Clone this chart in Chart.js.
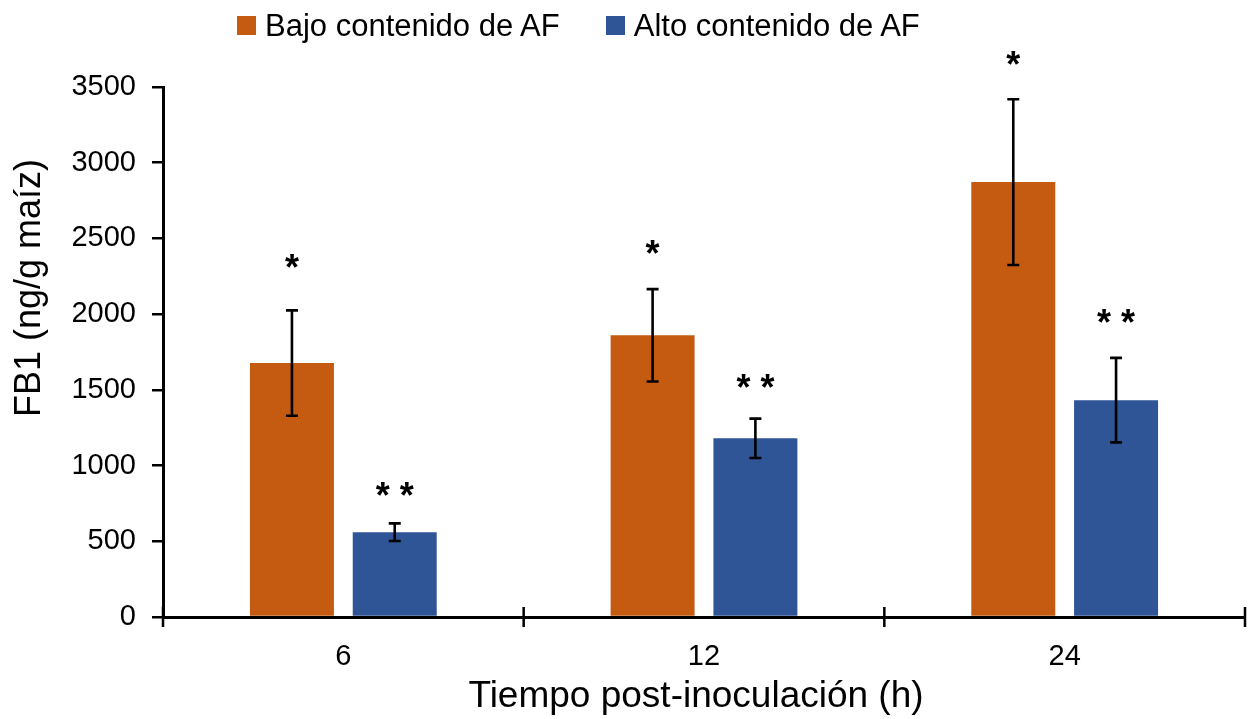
<!DOCTYPE html>
<html>
<head>
<meta charset="utf-8">
<script src="https://cdn.jsdelivr.net/npm/chart.js@4/dist/chart.umd.min.js"></script>
<style>
  html, body { margin: 0; padding: 0; background: #fff; }
  #wrap { position: relative; width: 1252px; height: 719px; }
  #legend { position: absolute; left: 237px; top: 10px; display: flex; align-items: center;
            font-family: "Liberation Sans", Arial, sans-serif; font-size: 31px; line-height: 31px; color: #000; }
  #legend .item { display: flex; align-items: center; margin-right: 46px; }
  #legend .box { width: 19px; height: 19px; margin-right: 9px; }
</style>
</head>
<body>
<div id="wrap">
  <canvas id="chart" width="1252" height="719"></canvas>
  <div id="legend"></div>
</div>
<script>
// data
const categories = ['6', '12', '24'];
const seriesNames = ['Bajo contenido de AF', 'Alto contenido de AF'];
const seriesColors = ['#C55A11', '#2F5597'];

const lowAF = [1677, 1860, 2872];
const lowAFErr = [348, 305, 547];
const highAF = [560, 1180, 1432];
const highAFErr = [58, 130, 279];

// significance marks and the level (in ng/g) where each sits
const lowAFSig = ['*', '*', '*'];
const lowAFSigAt = [2340, 2428, 3678];
const highAFSig = ['* *', '* *', '* *'];
const highAFSigAt = [834, 1543, 1977];

const yTickValues = [0, 500, 1000, 1500, 2000, 2500, 3000, 3500];
const xTitle = 'Tiempo post-inoculación (h)';
const yTitle = 'FB1 (ng/g maíz)';

const FONT = '"Liberation Sans", Arial, sans-serif';

// html legend
const legend = document.getElementById('legend');
legend.innerHTML = seriesNames.map((name, i) =>
    `<div class="item"><div class="box" style="background:${seriesColors[i]}"></div><span>${name}</span></div>`
).join('');

const extras = {
    id: 'extras',
    afterDatasetsDraw(chart) {
        const { ctx, scales: { y } } = chart;
        ctx.save();
        chart.data.datasets.forEach((ds, di) => {
            const meta = chart.getDatasetMeta(di);
            meta.data.forEach((bar, i) => {
                const xc = bar.x;
                const hi = y.getPixelForValue(ds.data[i] + ds.err[i]);
                const lo = y.getPixelForValue(ds.data[i] - ds.err[i]);
                ctx.strokeStyle = '#000';
                ctx.lineWidth = 2.6;
                ctx.beginPath();
                ctx.moveTo(xc, hi); ctx.lineTo(xc, lo);
                ctx.moveTo(xc - 6, hi); ctx.lineTo(xc + 6, hi);
                ctx.moveTo(xc - 6, lo); ctx.lineTo(xc + 6, lo);
                ctx.stroke();

                // asterisks
                ctx.fillStyle = '#000';
                ctx.font = 'bold 36px ' + FONT;
                ctx.textAlign = 'center';
                ctx.textBaseline = 'alphabetic';
                ctx.fillText(ds.sig[i], xc, y.getPixelForValue(ds.sigAt[i]) + 17);
            });
        });
        ctx.restore();
    },
    afterDraw(chart) {
        const { ctx, chartArea } = chart;
        ctx.save();
        // tick marks crossing the x axis at category edges
        ctx.strokeStyle = '#000';
        ctx.lineWidth = 2.5;
        const step = (chartArea.right - chartArea.left) / categories.length;
        ctx.beginPath();
        for (let i = 0; i <= categories.length; i++) {
            const xp = chartArea.left + i * step;
            ctx.moveTo(xp, chartArea.bottom - 10);
            ctx.lineTo(xp, chartArea.bottom + 10);
        }
        ctx.stroke();

        // axis titles
        ctx.fillStyle = '#000';
        ctx.font = '37px ' + FONT;
        ctx.textAlign = 'center';
        ctx.textBaseline = 'alphabetic';
        ctx.fillText(xTitle, 696, 707);

        ctx.font = '36px ' + FONT;
        ctx.translate(40, 288);
        ctx.rotate(-Math.PI / 2);
        ctx.fillText(yTitle, 0, 0);
        ctx.restore();
    }
};

new Chart(document.getElementById('chart'), {
    type: 'bar',
    data: {
        labels: categories,
        datasets: [
            { label: seriesNames[0], data: lowAF, err: lowAFErr, sig: lowAFSig, sigAt: lowAFSigAt,
              backgroundColor: seriesColors[0], categoryPercentage: 0.57, barPercentage: 0.817 },
            { label: seriesNames[1], data: highAF, err: highAFErr, sig: highAFSig, sigAt: highAFSigAt,
              backgroundColor: seriesColors[1], categoryPercentage: 0.57, barPercentage: 0.817 }
        ]
    },
    options: {
        responsive: false,
        animation: false,
        layout: { padding: { top: 87, right: 7, left: 0, bottom: 0 } },
        plugins: {
            legend: { display: false },
            tooltip: { enabled: false }
        },
        scales: {
            x: {
                grid: { display: false, drawTicks: false },
                border: { display: true, color: '#000', width: 3 },
                ticks: { color: '#000', padding: 23, font: { size: 29, family: FONT } },
                afterFit: s => { s.height = 102; }
            },
            y: {
                min: 0,
                max: 3500,
                afterBuildTicks: s => { s.ticks = yTickValues.map(v => ({ value: v })); },
                grid: { drawOnChartArea: false, drawTicks: true, tickLength: 11, color: '#000', lineWidth: 2.5 },
                border: { display: true, color: '#000', width: 3 },
                ticks: { color: '#000', padding: 16, font: { size: 29, family: FONT }, callback: v => String(v) },
                afterFit: s => { s.width = 163; }
            }
        }
    },
    plugins: [extras]
});
</script>
</body>
</html>
